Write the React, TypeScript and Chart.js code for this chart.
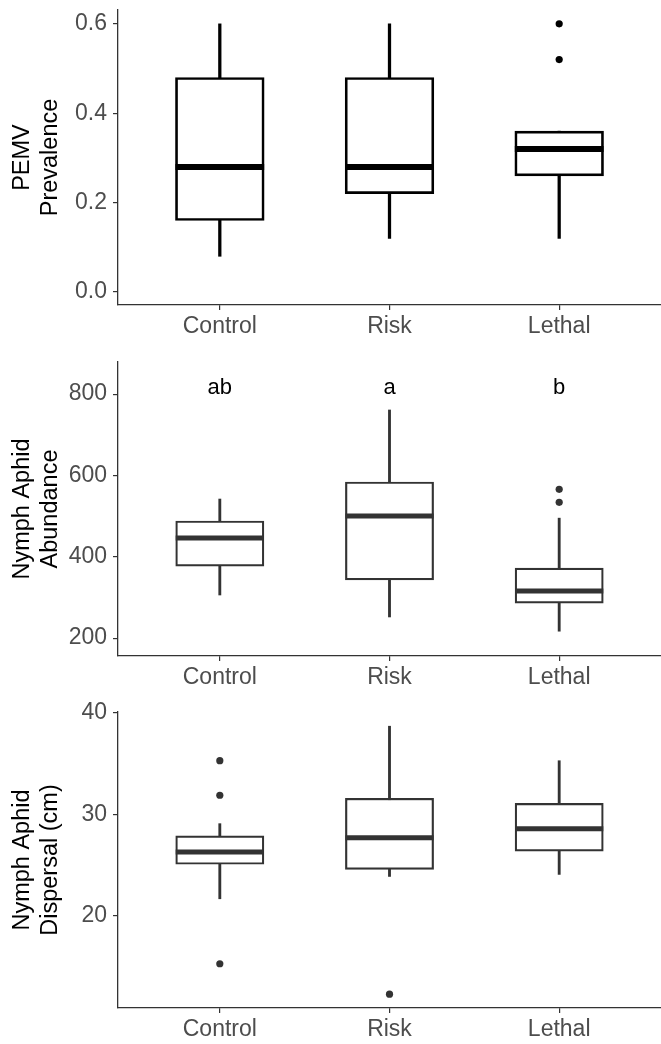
import React, { useEffect, useRef } from 'react';
import { Chart, registerables } from 'chart.js';

Chart.register(...registerables);

// ---------- Data ----------
const categories = ['Control', 'Risk', 'Lethal'];
const categoryX = [1, 2, 3];

// Panel 1: PEMV prevalence
const prevMin = [0.08, 0.12, 0.12];
const prevQ1 = [0.16, 0.22, 0.26];
const prevMedian = [0.28, 0.28, 0.32];
const prevQ3 = [0.48, 0.48, 0.36];
const prevMax = [0.6, 0.6, 0.36];
const prevOutlierX = [3, 3];
const prevOutlierY = [0.6, 0.52];
const prevTicks = [0, 0.2, 0.4, 0.6];

// Panel 2: nymph aphid abundance
const abunMin = [306, 252, 217];
const abunQ1 = [377, 343, 286];
const abunMedian = [446, 500, 316];
const abunQ3 = [488, 584, 372];
const abunMax = [542, 761, 495];
const abunOutlierX = [3, 3];
const abunOutlierY = [566, 534];
const abunTicks = [200, 400, 600, 800];
const abunLetters = ['ab', 'a', 'b'];
const abunLetterY = 815;

// Panel 3: nymph aphid dispersal (cm)
const dispMin = [21.7, 23.9, 24.1];
const dispQ1 = [25.1, 24.6, 26.4];
const dispMedian = [26.3, 27.7, 28.6];
const dispQ3 = [27.9, 31.6, 31.1];
const dispMax = [29.1, 38.7, 35.3];
const dispOutlierX = [1, 1, 1, 2];
const dispOutlierY = [35.3, 31.9, 15.3, 12.3];
const dispTicks = [20, 30, 40];

// ---------- Styling / layout ----------
const FONT = "'Liberation Sans', Arial, Helvetica, sans-serif";
const W = 661;
const AXIS_LEFT = 118;

type PanelCfg = {
  height: number;
  top: number;
  bottom: number;
  yMin: number;
  yMax: number;
  yTicks: number[];
  decimals: number;
  title: string[];
  mins: number[];
  q1: number[];
  med: number[];
  q3: number[];
  maxs: number[];
  outX: number[];
  outY: number[];
  color: string;
  boxLine: number;
  medLine: number;
  whisker: number;
  letters?: string[];
  letterY?: number;
};

const panels: PanelCfg[] = [
  {
    height: 340, top: 10, bottom: 305,
    yMin: -0.029, yMax: 0.631, yTicks: prevTicks, decimals: 1,
    title: ['PEMV', 'Prevalence'],
    mins: prevMin, q1: prevQ1, med: prevMedian, q3: prevQ3, maxs: prevMax,
    outX: prevOutlierX, outY: prevOutlierY,
    color: '#000000', boxLine: 2.7, medLine: 6, whisker: 2.6,
  },
  {
    height: 350, top: 22, bottom: 316,
    yMin: 156, yMax: 879, yTicks: abunTicks, decimals: 0,
    title: ['Nymph Aphid', 'Abundance'],
    mins: abunMin, q1: abunQ1, med: abunMedian, q3: abunQ3, maxs: abunMax,
    outX: abunOutlierX, outY: abunOutlierY,
    color: '#333333', boxLine: 2.2, medLine: 5, whisker: 2.2,
    letters: abunLetters, letterY: abunLetterY,
  },
  {
    height: 354, top: 22, bottom: 318,
    yMin: 10.94, yMax: 40.1, yTicks: dispTicks, decimals: 0,
    title: ['Nymph Aphid', 'Dispersal (cm)'],
    mins: dispMin, q1: dispQ1, med: dispMedian, q3: dispQ3, maxs: dispMax,
    outX: dispOutlierX, outY: dispOutlierY,
    color: '#333333', boxLine: 2.2, medLine: 5, whisker: 2.2,
  },
];

const lettersPlugin = {
  id: 'letters',
  afterDatasetsDraw(chart: any, _args: any, opts: any) {
    if (!opts || !opts.letters) return;
    const { ctx } = chart;
    const xs = chart.scales.x;
    const ys = chart.scales.y;
    ctx.save();
    ctx.fillStyle = '#000';
    ctx.font = `22px ${FONT}`;
    ctx.textAlign = 'center';
    ctx.textBaseline = 'middle';
    opts.letters.forEach((t: string, i: number) => {
      ctx.fillText(t, xs.getPixelForValue(categoryX[i]), ys.getPixelForValue(opts.y));
    });
    ctx.restore();
  },
};

function BoxPanel({ p }: { p: PanelCfg }) {
  const ref = useRef<HTMLCanvasElement>(null);
  useEffect(() => {
    if (!ref.current) return;
    const boxWidth = 86;
    const gridCfg = {
      display: true,
      drawOnChartArea: false,
      drawTicks: true,
      tickLength: 5,
      color: '#333333',
      lineWidth: 1.2,
      offset: false,
    };
    const borderCfg = { display: true, color: '#333333', width: 1.3 };
    const chart = new Chart(ref.current, {
      type: 'bar',
      data: {
        datasets: [
          {
            type: 'bar',
            data: categoryX.map((x, i) => ({ x, y: [p.mins[i], p.maxs[i]] })),
            backgroundColor: p.color,
            borderWidth: 0,
            barThickness: p.whisker,
            grouped: false,
            order: 3,
          } as any,
          {
            type: 'bar',
            data: categoryX.map((x, i) => ({ x, y: [p.q1[i], p.q3[i]] })),
            backgroundColor: '#ffffff',
            borderColor: p.color,
            borderWidth: p.boxLine,
            borderSkipped: false,
            barThickness: boxWidth + p.boxLine,
            grouped: false,
            order: 2,
          } as any,
          {
            type: 'scatter',
            data: categoryX.map((x, i) => ({ x, y: p.med[i] })),
            pointStyle: 'line',
            pointRadius: boxWidth / 2 + p.boxLine / 2,
            pointBorderColor: p.color,
            pointBackgroundColor: p.color,
            pointBorderWidth: p.medLine,
            showLine: false,
            order: 1,
          } as any,
          {
            type: 'scatter',
            data: p.outX.map((x, i) => ({ x, y: p.outY[i] })),
            pointStyle: 'circle',
            pointRadius: 3.6,
            pointBackgroundColor: p.color,
            pointBorderColor: p.color,
            pointBorderWidth: 0,
            showLine: false,
            order: 0,
          } as any,
        ],
      },
      options: {
        responsive: false,
        animation: false,
        devicePixelRatio: 1,
        events: [],
        layout: { autoPadding: false, padding: { top: p.top, left: 0, right: 0, bottom: 0 } },
        plugins: {
          legend: { display: false },
          tooltip: { enabled: false },
          letters: p.letters ? { letters: p.letters, y: p.letterY } : {},
        } as any,
        scales: {
          x: {
            type: 'linear',
            min: 0.4,
            max: 3.6,
            offset: false,
            afterBuildTicks: (s: any) => {
              s.ticks = categoryX.map((v) => ({ value: v }));
            },
            afterFit: (s: any) => {
              s.height = p.height - p.bottom;
              s.paddingLeft = 0;
              s.paddingRight = 0;
            },
            ticks: {
              autoSkip: false,
              maxRotation: 0,
              padding: 3,
              color: '#4d4d4d',
              font: { family: FONT, size: 23, lineHeight: 1.2 },
              callback: (_v: any, idx: number) => categories[idx],
            },
            grid: gridCfg,
            border: borderCfg,
          },
          y: {
            type: 'linear',
            min: p.yMin,
            max: p.yMax,
            afterBuildTicks: (s: any) => {
              s.ticks = p.yTicks.map((v) => ({ value: v }));
            },
            afterFit: (s: any) => {
              s.width = AXIS_LEFT;
              s.paddingTop = 0;
              s.paddingBottom = 0;
            },
            ticks: {
              padding: 6,
              color: '#4d4d4d',
              font: { family: FONT, size: 23, lineHeight: 0.8 },
              callback: (v: any) => Number(v).toFixed(p.decimals),
            },
            grid: gridCfg,
            border: borderCfg,
            title: {
              display: true,
              text: p.title,
              color: '#000000',
              font: { family: FONT, size: 23.5, lineHeight: 1.19 },
              padding: { top: 9, bottom: 0 },
            },
          },
        },
      } as any,
      plugins: [lettersPlugin],
    });
    return () => chart.destroy();
  }, []);
  return <canvas ref={ref} width={W} height={p.height} style={{ display: 'block', width: W, height: p.height }} />;
}

export default function App() {
  return (
    <div style={{ position: 'absolute', left: 0, top: 0, width: W, height: 1044, background: '#fff' }}>
      {panels.map((p, i) => (
        <BoxPanel key={i} p={p} />
      ))}
    </div>
  );
}
